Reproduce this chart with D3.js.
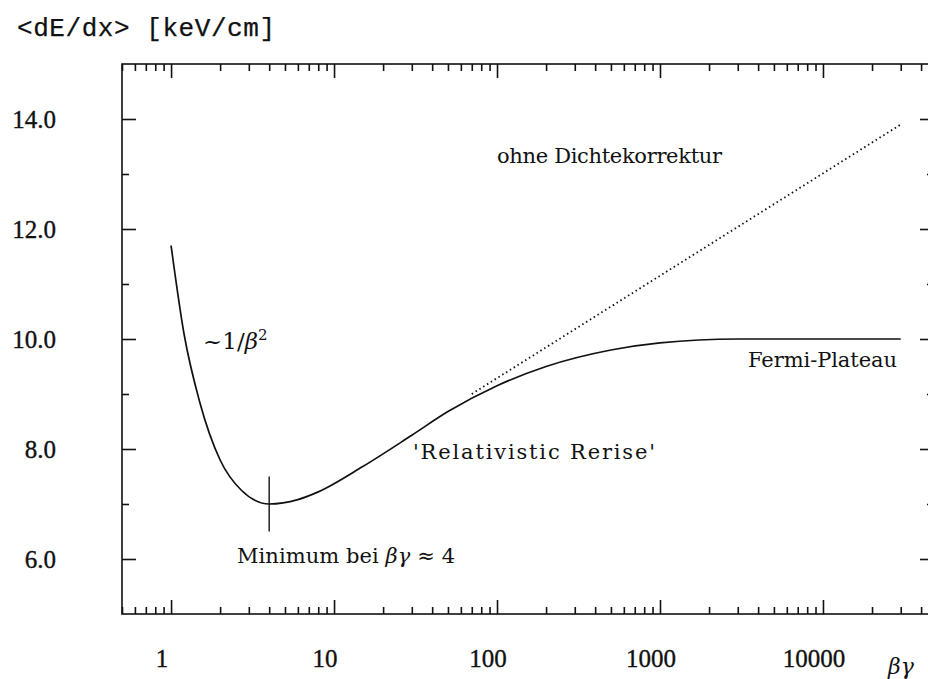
<!DOCTYPE html>
<html lang="de">
<head>
<meta charset="UTF-8">
<title>dE/dx vs beta gamma</title>
<script src="https://d3js.org/d3.v7.min.js"></script>
<style>
    body { margin: 0; background: #fff; }
    svg { display: block; }
    text { font-family: "DejaVu Serif", serif; fill: #111; }
    .frame { fill: none; stroke: #111; stroke-width: 1.6px; }
    .tick line { stroke: #111; stroke-width: 1.6px; }
    .domain { display: none; }
    .ticklabel { font-family: "Liberation Serif", serif; font-size: 25px; stroke: #111; stroke-width: 0.35px; }
    .title { font-family: "Liberation Mono", monospace; font-size: 26px; stroke: #111; stroke-width: 0.25px; }
</style>
</head>
<body>
<div id="chart"></div>
<script>
    // data
    const xDomain = [0.5, 48000];
    const yDomain = [5, 15];
    const xMajor = [1, 10, 100, 1000, 10000];
    const yMajor = [6, 8, 10, 12, 14];
    const yMinor = [7, 9, 11, 13];

    // energy loss with density correction (solid)
    const betaGamma = [1, 1.2, 1.5, 2, 2.7, 4, 6, 8, 15, 30, 50, 100, 200, 500, 1000, 3000, 30000];
    const dEdx      = [11.7, 10.1, 8.85, 7.8, 7.25, 7.0, 7.08, 7.22, 7.68, 8.25, 8.68, 9.15, 9.5, 9.8, 9.93, 10.0, 10.0];

    // without density correction (dotted)
    const noDensBG  = [70, 30000];
    const noDensVal = [9.0, 13.9];

    const minimumBG = 4;
    const minimumRange = [6.5, 7.5];

    const width = 928, height = 679;
    const svg = d3.select("#chart").append("svg")
        .attr("width", width)
        .attr("height", height);

    const x = d3.scaleLog().domain(xDomain).range([122, 934]);
    const y = d3.scaleLinear().domain(yDomain).range([614, 64]);

    // frame
    svg.append("rect")
        .attr("class", "frame")
        .attr("x", x(xDomain[0]))
        .attr("y", y(yDomain[1]))
        .attr("width", x(xDomain[1]) - x(xDomain[0]))
        .attr("height", y(yDomain[0]) - y(yDomain[1]));

    const isMajor = v => xMajor.some(m => Math.abs(m - v) / m < 1e-6);
    const xMinorTicks = x.ticks().filter(v => !isMajor(v));

    // bottom and top ticks (inward)
    const axBottom = svg.append("g").attr("transform", `translate(0,${y(yDomain[0])})`);
    axBottom.append("g").call(d3.axisBottom(x).tickValues(xMinorTicks).tickSize(-7).tickFormat(""));
    axBottom.append("g").call(d3.axisBottom(x).tickValues(xMajor).tickSize(-14).tickFormat(""));

    const axTop = svg.append("g").attr("transform", `translate(0,${y(yDomain[1])})`);
    axTop.append("g").call(d3.axisTop(x).tickValues(xMinorTicks).tickSize(-7).tickFormat(""));
    axTop.append("g").call(d3.axisTop(x).tickValues(xMajor).tickSize(-14).tickFormat(""));

    // left and right ticks (inward)
    const axLeft = svg.append("g").attr("transform", `translate(${x(xDomain[0])},0)`);
    axLeft.append("g").call(d3.axisLeft(y).tickValues(yMinor).tickSize(-7).tickFormat(""));
    axLeft.append("g").call(d3.axisLeft(y).tickValues(yMajor).tickSize(-14).tickFormat(""));

    const axRight = svg.append("g").attr("transform", `translate(${x(xDomain[1])},0)`);
    axRight.append("g").call(d3.axisRight(y).tickValues(yMinor).tickSize(-7).tickFormat(""));
    axRight.append("g").call(d3.axisRight(y).tickValues(yMajor).tickSize(-14).tickFormat(""));

    // tick labels
    svg.append("g").selectAll("text")
        .data(yMajor)
        .join("text")
        .attr("class", "ticklabel")
        .attr("x", 56)
        .attr("y", d => y(d) + 9)
        .attr("text-anchor", "end")
        .text(d3.format(".1f"));

    svg.append("g").selectAll("text")
        .data(xMajor)
        .join("text")
        .attr("class", "ticklabel")
        .attr("x", d => x(d) - 9)
        .attr("y", 667)
        .attr("text-anchor", "middle")
        .text(d => String(d));

    // axis titles
    svg.append("text")
        .attr("class", "title")
        .attr("x", 17)
        .attr("y", 36)
        .attr("textLength", 258)
        .attr("lengthAdjust", "spacing")
        .text("<dE/dx> [keV/cm]");

    svg.append("text")
        .attr("x", 888)
        .attr("y", 674)
        .style("font-size", "22px")
        .style("font-style", "italic")
        .text("βγ");

    // curves
    const line = d3.line()
        .x(d => x(d[0]))
        .y(d => y(d[1]))
        .curve(d3.curveMonotoneX);

    svg.append("path")
        .datum(noDensBG.map((b, i) => [b, noDensVal[i]]))
        .attr("d", line)
        .attr("fill", "none")
        .attr("stroke", "#111")
        .attr("stroke-width", 1.8)
        .attr("stroke-dasharray", "1.5,3");

    svg.append("path")
        .datum(betaGamma.map((b, i) => [b, dEdx[i]]))
        .attr("d", line)
        .attr("fill", "none")
        .attr("stroke", "#111")
        .attr("stroke-width", 1.7);

    // minimum marker
    svg.append("line")
        .attr("x1", x(minimumBG)).attr("x2", x(minimumBG))
        .attr("y1", y(minimumRange[0])).attr("y2", y(minimumRange[1]))
        .attr("stroke", "#111")
        .attr("stroke-width", 1.4);

    // annotations
    const ann = svg.append("g").style("font-size", "21px");
    ann.append("text").attr("x", 497).attr("y", 163)
        .attr("textLength", 225).attr("lengthAdjust", "spacing")
        .text("ohne Dichtekorrektur");
    ann.append("text").attr("x", 748).attr("y", 367)
        .attr("textLength", 149).attr("lengthAdjust", "spacing")
        .text("Fermi-Plateau");
    ann.append("text").attr("x", 413).attr("y", 459)
        .attr("textLength", 242).attr("lengthAdjust", "spacing")
        .text("'Relativistic Rerise'");

    const inv = ann.append("text").attr("x", 203).attr("y", 349).style("font-size", "23px");
    inv.append("tspan").text("~1/");
    inv.append("tspan").style("font-style", "italic").text("β");
    inv.append("tspan").attr("dy", -9).style("font-size", "15px").text("2");

    const minTxt = ann.append("text").attr("x", 237).attr("y", 563);
    minTxt.append("tspan").text("Minimum bei ");
    minTxt.append("tspan").style("font-style", "italic").text("βγ");
    minTxt.append("tspan").text(" ≈ 4");
    minTxt.attr("textLength", 218).attr("lengthAdjust", "spacing");
</script>
</body>
</html>
